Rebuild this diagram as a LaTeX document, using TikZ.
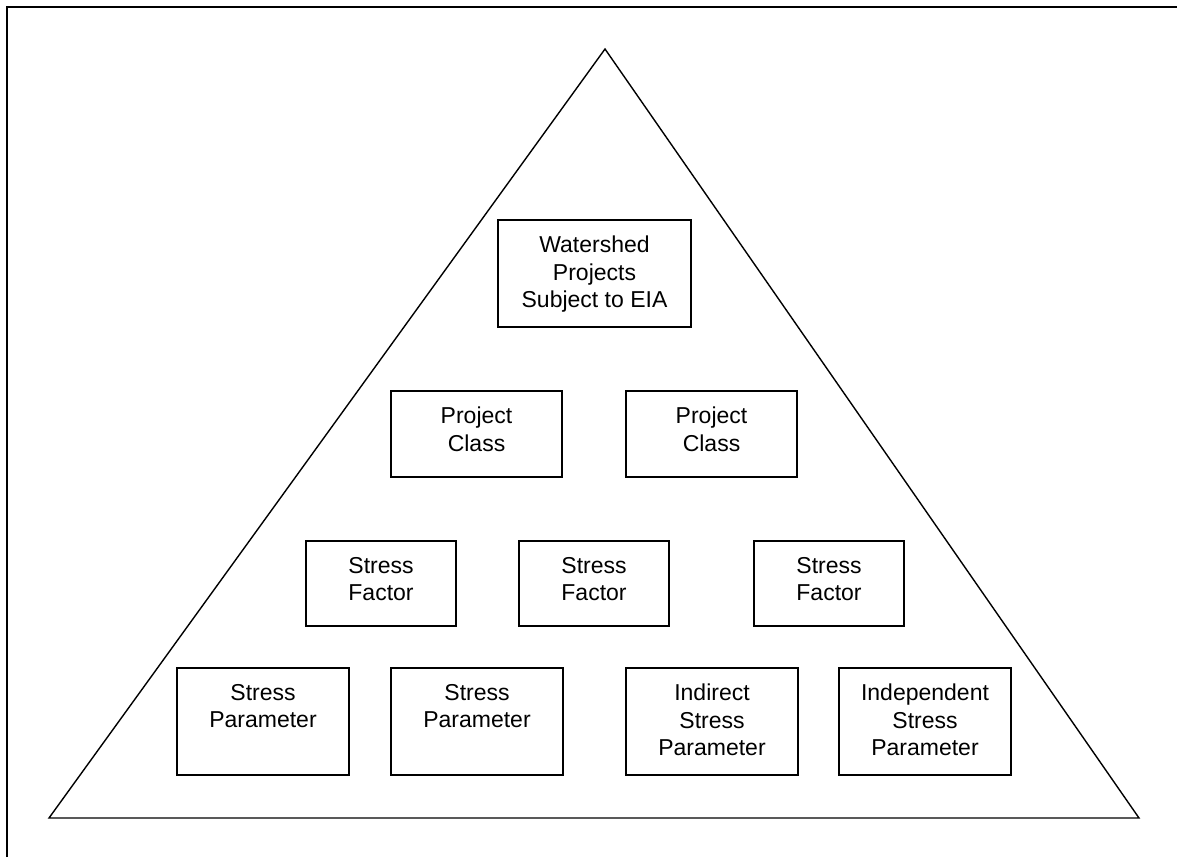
\documentclass[tikz,border=0pt]{standalone}
\usepackage{fontspec}
\setmainfont{Liberation Sans}
\tikzset{
    box/.style={draw,line width=1.4pt,inner sep=0pt,minimum height=#1},
    box/.default=107,
    txt/.style={anchor=north,yshift=-16.5pt,inner sep=0pt,align=center,
        font=\fontsize{23}{27.5}\selectfont}
}
\begin{document}
\begin{tikzpicture}[x=1pt,y=-1pt]
    \useasboundingbox (0,0) rectangle (1177,857);
    \draw[line width=2pt] (7,857) -- (7,7) -- (1177,7);

    \coordinate (apex) at (605,49);
    \coordinate (bl) at (49,818);
    \coordinate (br) at (1139,818);
    \draw[line width=1.4pt,line join=miter] (apex) -- (bl) -- (br) -- cycle;

    \node[box,minimum width=193,label={[txt]north:{Watershed\\Projects\\Subject to EIA}}] (ws) at (594.5,273.5) {};

    \node[box=86,minimum width=171,label={[txt]north:{Project\\Class}}] (pc1) at (476.5,434) {};
    \node[box=86,minimum width=171,label={[txt]north:{Project\\Class}}] (pc2) at (711.5,434) {};

    \node[box=85,minimum width=150,label={[txt]north:{Stress\\Factor}}] (sf1) at (381,583.5) {};
    \node[box=85,minimum width=150,label={[txt]north:{Stress\\Factor}}] (sf2) at (594,583.5) {};
    \node[box=85,minimum width=150,label={[txt]north:{Stress\\Factor}}] (sf3) at (829,583.5) {};

    \node[box,minimum width=172,label={[txt]north:{Stress\\Parameter}}] (sp1) at (263,721.5) {};
    \node[box,minimum width=172,label={[txt]north:{Stress\\Parameter}}] (sp2) at (477,721.5) {};
    \node[box,minimum width=172,label={[txt]north:{Indirect\\Stress\\Parameter}}] (isp) at (712,721.5) {};
    \node[box,minimum width=172,label={[txt]north:{Independent\\Stress\\Parameter}}] (dsp) at (925,721.5) {};
\end{tikzpicture}
\end{document}
